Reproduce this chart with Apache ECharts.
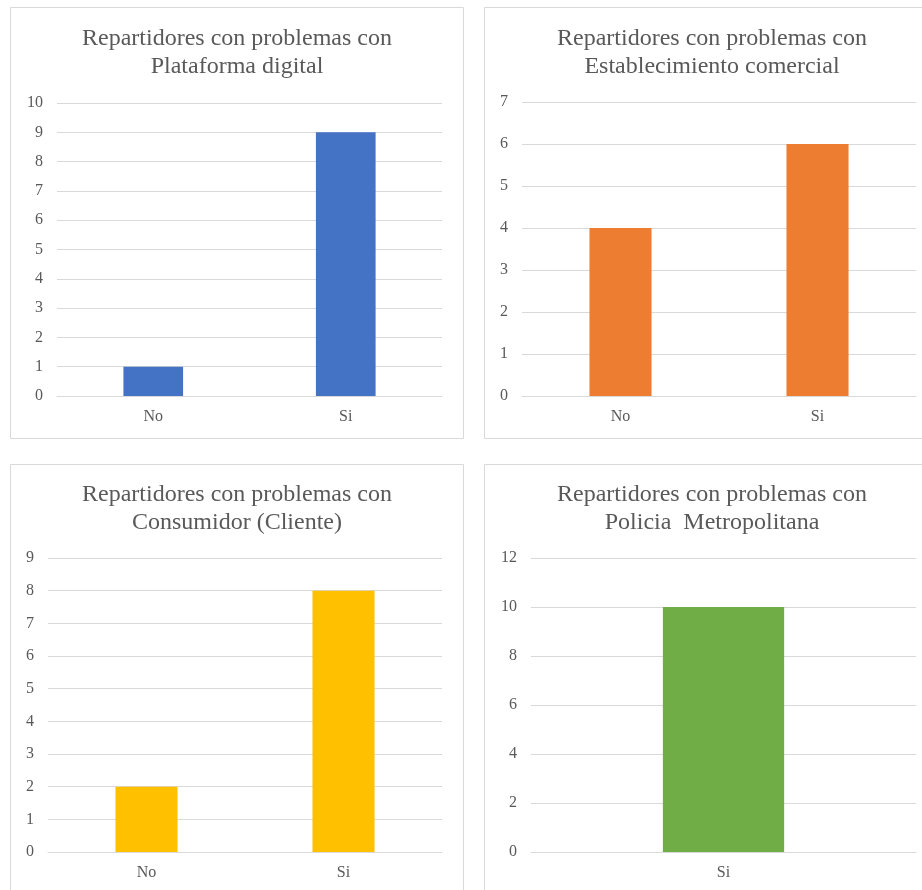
<!DOCTYPE html>
<html>
<head>
<meta charset="utf-8">
<script src="https://cdn.jsdelivr.net/npm/echarts@6/dist/echarts.min.js"></script>
<style>
  html, body { margin: 0; padding: 0; background: #fff; width: 922px; height: 890px; overflow: hidden; position: relative; }
  .p { position: absolute; }
</style>
</head>
<body>
<div id="c1" class="p" style="left:10px;top:7px;width:454px;height:432px;"></div>
<div id="c2" class="p" style="left:484px;top:7px;width:440px;height:432px;"></div>
<div id="c3" class="p" style="left:10px;top:464px;width:454px;height:440px;"></div>
<div id="c4" class="p" style="left:484px;top:464px;width:440px;height:440px;"></div>
<script>
// ---- data ----
const titles = [
  "Repartidores con problemas con\nPlataforma digital",
  "Repartidores con problemas con\nEstablecimiento comercial",
  "Repartidores con problemas con\nConsumidor (Cliente)",
  "Repartidores con problemas con\nPolicia  Metropolitana"
];
const categories1 = ["No", "Si"];
const values1 = [1, 9];
const categories2 = ["No", "Si"];
const values2 = [4, 6];
const categories3 = ["No", "Si"];
const values3 = [2, 8];
const categories4 = ["Si"];
const values4 = [10];
const yMax = [10, 7, 9, 12];
const yInterval = [1, 1, 1, 2];
const colors = ["#4472C4", "#ED7D31", "#FFC000", "#70AD47"];

// ---- layout / style ----
const FONT = "'Liberation Serif', 'DejaVu Serif', serif";
const TXT = "#595959";
const GRIDC = "#d9d9d9";
const layouts = [
  { id: "c1", grid: { left: 47, right: 22, top: 96, bottom: 43 }, barW: "31%", titleCx: 227, titleY: 18 },
  { id: "c2", grid: { left: 38, right: 8, top: 95, bottom: 43 }, barW: "31.5%", titleCx: 228, titleY: 18 },
  { id: "c3", grid: { left: 38, right: 22, top: 94, bottom: 52 }, barW: "31.5%", titleCx: 227, titleY: 17 },
  { id: "c4", grid: { left: 47, right: 8, top: 94, bottom: 52 }, barW: "31.5%", titleCx: 228, titleY: 17 }
];
const cats = [categories1, categories2, categories3, categories4];
const vals = [values1, values2, values3, values4];

layouts.forEach((L, i) => {
  const el = document.getElementById(L.id);
  const chart = echarts.init(el, null, { renderer: "canvas" });
  const w = el.clientWidth, h = el.clientHeight;
  chart.setOption({
    animation: false,
    backgroundColor: "#fff",
    graphic: [{
      type: "rect",
      shape: { x: 0.5, y: 0.5, width: w - 1, height: h - 1 },
      style: { fill: "none", stroke: GRIDC, lineWidth: 1 },
      silent: true,
      z: -1
    }, {
      type: "text",
      x: L.titleCx,
      y: L.titleY,
      silent: true,
      style: {
        text: titles[i],
        align: "center",
        verticalAlign: "top",
        fontFamily: FONT,
        fontSize: 24,
        lineHeight: 28,
        fill: TXT
      }
    }],
    grid: L.grid,
    xAxis: {
      type: "category",
      data: cats[i],
      axisLine: { lineStyle: { color: GRIDC, width: 1 } },
      axisTick: { show: false },
      axisLabel: { color: TXT, fontFamily: FONT, fontSize: 16, margin: 13 }
    },
    yAxis: {
      type: "value",
      min: 0,
      max: yMax[i],
      interval: yInterval[i],
      axisLine: { show: false },
      axisTick: { show: false },
      axisLabel: { color: TXT, fontFamily: FONT, fontSize: 16, margin: 14 },
      splitLine: { lineStyle: { color: GRIDC, width: 1 } }
    },
    series: [{
      type: "bar",
      data: vals[i],
      barWidth: L.barW,
      itemStyle: { color: colors[i] }
    }]
  });
});
</script>
</body>
</html>
